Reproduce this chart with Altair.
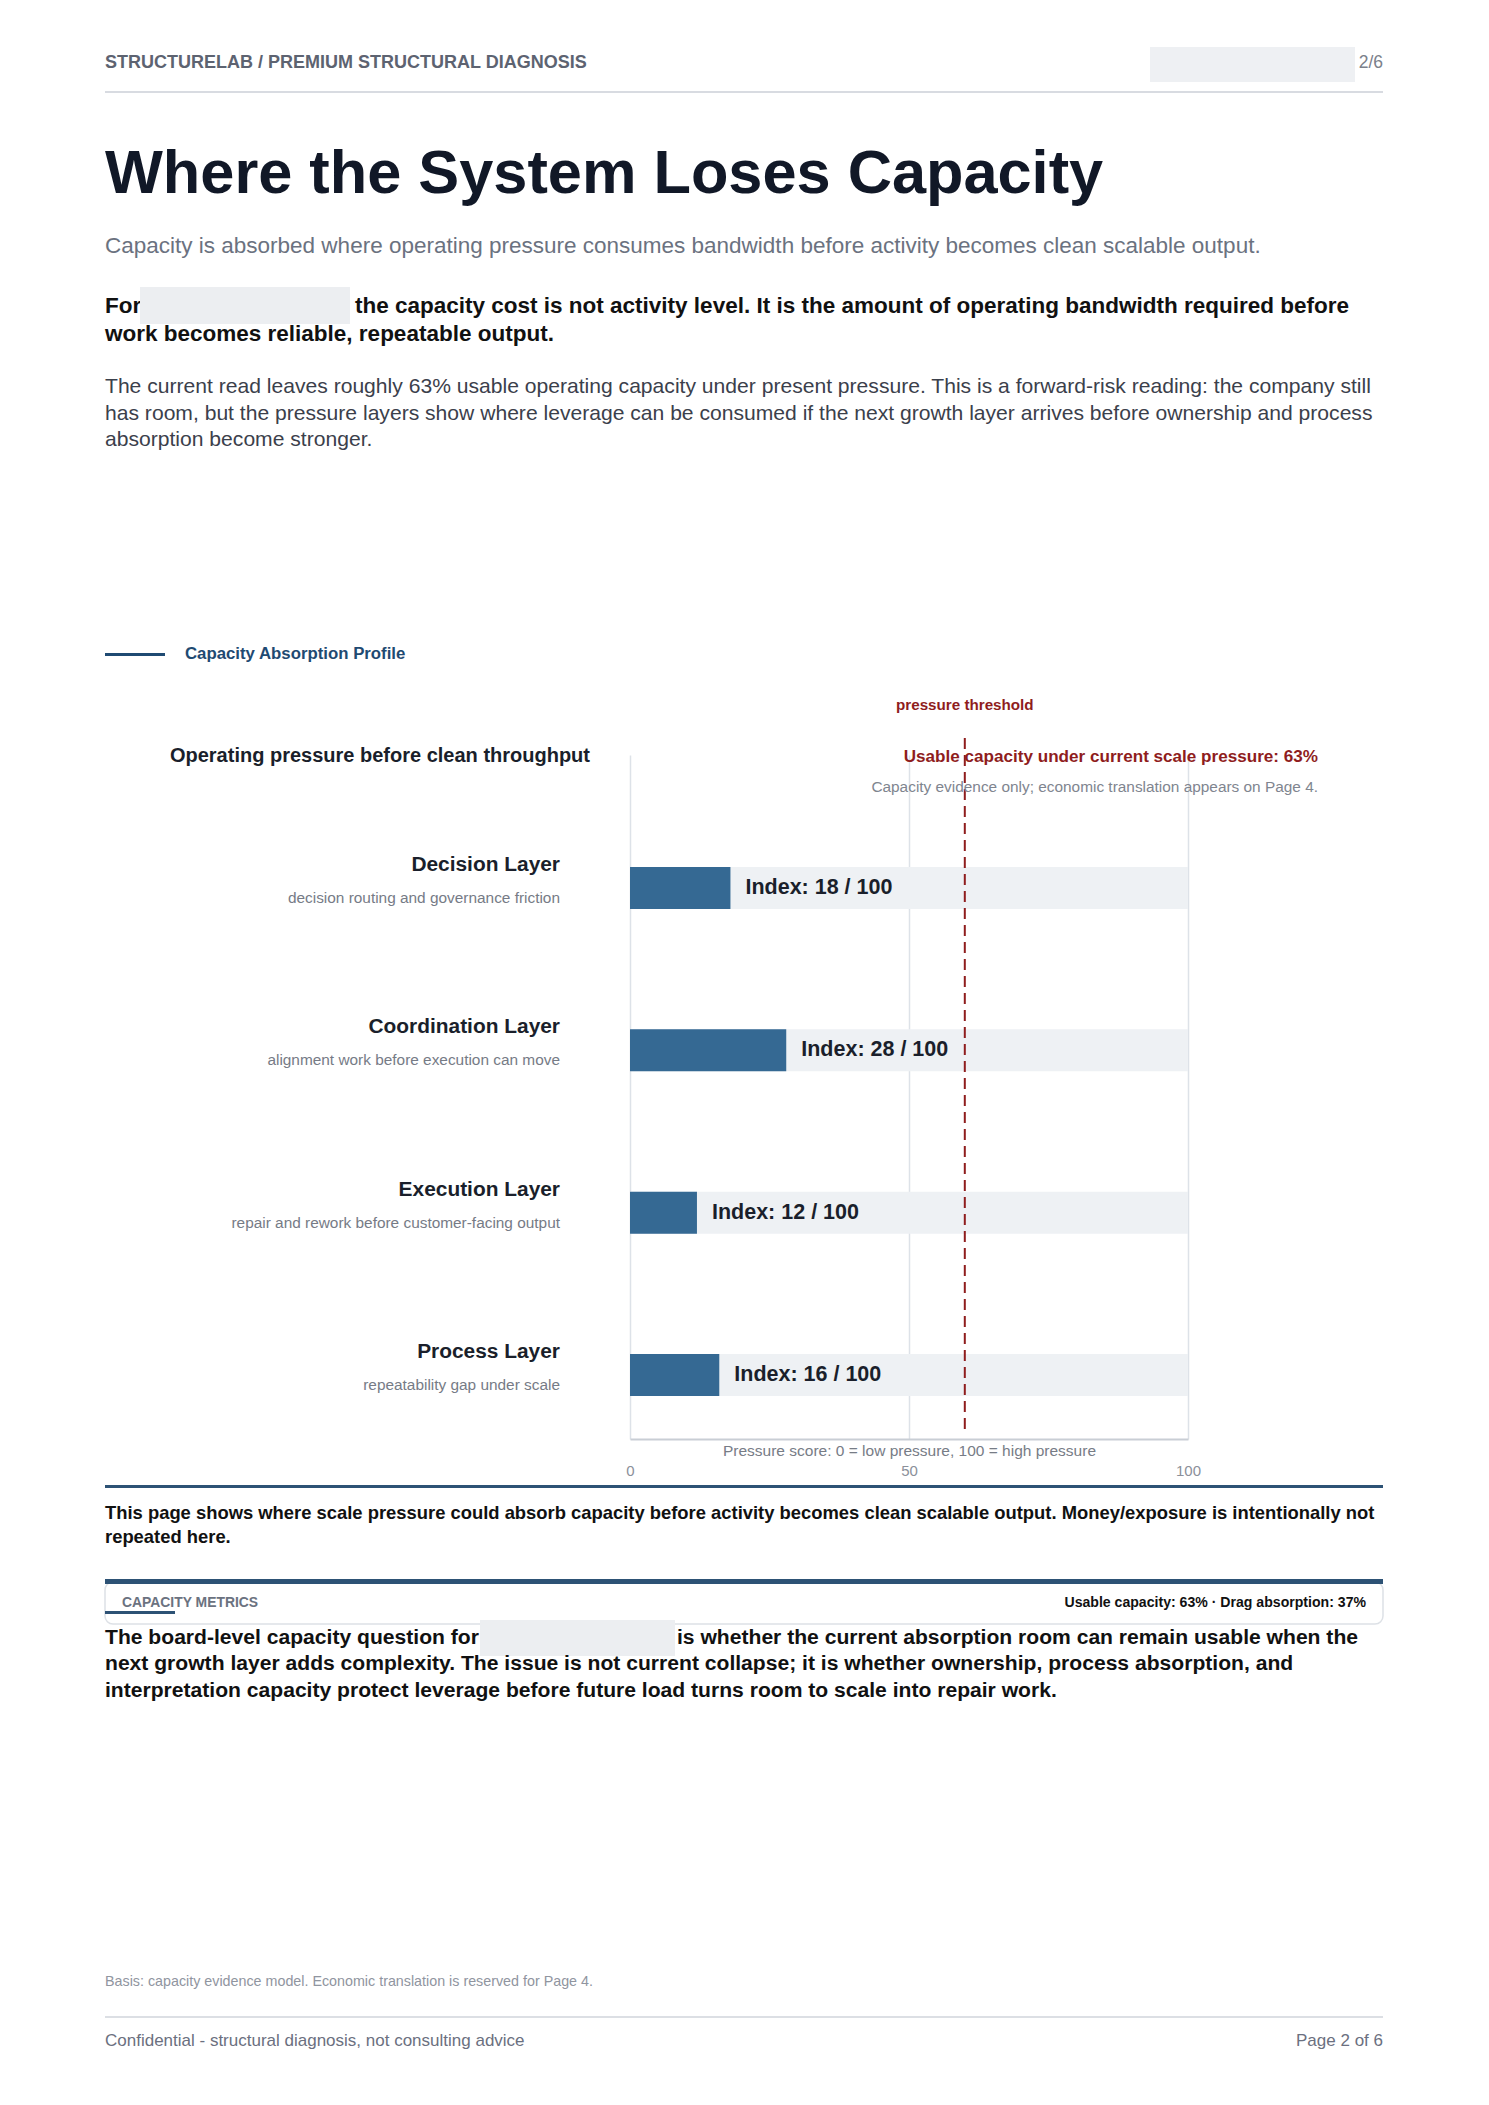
import altair as alt
import pandas as pd

FONT = "Liberation Sans"
X0, Y0 = 630, 755          # page position of the plot origin
PW, PH = 558, 684          # plot area size

# ---------------- data ----------------
layers = ["Decision Layer", "Coordination Layer", "Execution Layer", "Process Layer"]
descriptions = [
    "decision routing and governance friction",
    "alignment work before execution can move",
    "repair and rework before customer-facing output",
    "repeatability gap under scale",
]
scores = [18, 28, 12, 16]
threshold = 60
usable_pct = 63
drag_pct = 37
tick_values = [0, 50, 100]

df = pd.DataFrame({"layer": layers, "desc": descriptions, "score": scores})
df["label"] = ["Index: %d / 100" % s for s in scores]
thr = pd.DataFrame({"threshold": [threshold], "label": ["pressure threshold"]})
one = pd.DataFrame({"k": [0]})

# ---------------- helpers ----------------
def txt(s, x, y, size, color, weight="normal", align="left", lh=None):
    kw = dict(text=s, align=align, baseline="middle", fontSize=size,
              fontWeight=weight, color=color, font=FONT)
    if lh:
        kw["lineHeight"] = lh
    return alt.Chart(one).mark_text(**kw).encode(
        x=alt.value(x - X0), y=alt.value(y - Y0))

def box(x1, x2, y1, y2, fill, stroke=None, radius=0, sw=1):
    kw = dict(fill=fill, cornerRadius=radius)
    if stroke:
        kw.update(stroke=stroke, strokeWidth=sw)
    return alt.Chart(one).mark_rect(**kw).encode(
        x=alt.value(x1 - X0), x2=alt.value(x2 - X0),
        y=alt.value(y1 - Y0), y2=alt.value(y2 - Y0))

# ---------------- scales / axis ----------------
xs = alt.Scale(domain=[0, 100], nice=False, zero=True)
ys = alt.Scale(type="point", domain=layers, padding=0.607, align=0.675)
xaxis = alt.Axis(
    values=tick_values, grid=True, gridColor="#dde2e8", gridWidth=1.5,
    domain=True, domainColor="#c9ced5", domainWidth=2,
    ticks=False, tickSize=0, labelPadding=24, labelFlush=False,
    labelFontSize=15, labelColor="#8b909a", labelFont=FONT,
    title="Pressure score: 0 = low pressure, 100 = high pressure",
    titleFont=FONT, titleFontSize=15.5, titleFontWeight="normal",
    titleColor="#777c86", titleY=11, titleBaseline="middle",
)

BLUE = "#356993"
RED = "#8f1d1d"
DARK = "#1a1f2b"

bg = alt.Chart(df).mark_bar(size=42, color="#eef1f4").encode(
    x=alt.X(datum=0, type="quantitative", scale=xs, axis=xaxis),
    x2=alt.X2(datum=100),
    y=alt.Y("layer:N", scale=ys, axis=None),
)
bars = alt.Chart(df).mark_bar(size=42, color=BLUE).encode(
    x=alt.X("score:Q", scale=xs, axis=xaxis),
    y=alt.Y("layer:N", scale=ys, axis=None),
)
vals = alt.Chart(df).mark_text(align="left", baseline="middle", dx=15, fontSize=21.5,
                               fontWeight="bold", color=DARK, font=FONT).encode(
    x=alt.X("score:Q", scale=xs, axis=xaxis),
    y=alt.Y("layer:N", scale=ys, axis=None),
    text="label:N",
)
names = alt.Chart(df).mark_text(align="right", baseline="middle", dy=-23, fontSize=20.9,
                                fontWeight="bold", color=DARK, font=FONT).encode(
    x=alt.value(560 - X0),
    y=alt.Y("layer:N", scale=ys, axis=None),
    text="layer:N",
)
descs = alt.Chart(df).mark_text(align="right", baseline="middle", dy=10, fontSize=15.4,
                                color="#767b86", font=FONT).encode(
    x=alt.value(560 - X0),
    y=alt.Y("layer:N", scale=ys, axis=None),
    text="desc:N",
)
rule = alt.Chart(thr).mark_rule(color=RED, strokeWidth=2, strokeDash=[11, 6]).encode(
    x=alt.X("threshold:Q", scale=xs, axis=xaxis),
    y=alt.value(738 - Y0), y2=alt.value(1432 - Y0),
)
thr_lbl = alt.Chart(thr).mark_text(align="center", baseline="middle", fontSize=15.2,
                                   fontWeight="bold", color=RED, font=FONT).encode(
    x=alt.X("threshold:Q", scale=xs, axis=xaxis),
    y=alt.value(705 - Y0),
    text="label:N",
)

GRAY = "#6b7280"
page = [
    # header
    txt("STRUCTURELAB / PREMIUM STRUCTURAL DIAGNOSIS", 105, 63, 18, "#5d6371", "bold"),
    box(1150, 1355, 47, 82, "#eef0f3"),
    txt("2/6", 1383, 63, 17.5, "#7b808a", align="right"),
    box(105, 1383, 91, 93, "#d8dbe1"),
    # title block
    txt("Where the System Loses Capacity", 105, 175, 61.3, "#111827", "bold"),
    txt("Capacity is absorbed where operating pressure consumes bandwidth before activity becomes clean scalable output.",
        105, 246, 22.5, GRAY),
    txt("For", 105, 306, 22.5, "#111111", "bold"),
    box(140, 350, 287, 324, "#eceef1"),
    txt("the capacity cost is not activity level. It is the amount of operating bandwidth required before",
        355, 306, 22.5, "#111111", "bold"),
    txt("work becomes reliable, repeatable output.", 105, 334, 22.5, "#111111", "bold"),
    txt(["The current read leaves roughly 63% usable operating capacity under present pressure. This is a forward-risk reading: the company still",
         "has room, but the pressure layers show where leverage can be consumed if the next growth layer arrives before ownership and process",
         "absorption become stronger."], 105, 387, 21.1, "#3b404b", lh=26.5),
    # section header
    box(105, 165, 653, 656, "#1f4a72"),
    txt("Capacity Absorption Profile", 185, 654, 16.8, "#1f4a72", "bold"),
    txt("Operating pressure before clean throughput", 590, 756, 20, DARK, "bold", align="right"),
    # bottom notes
    box(105, 1383, 1485, 1488, "#2d5275"),
    txt(["This page shows where scale pressure could absorb capacity before activity becomes clean scalable output. Money/exposure is intentionally not",
         "repeated here."], 105, 1513, 18.4, "#111111", "bold", lh=23.5),
    box(105, 1383, 1582, 1624, "#ffffff", stroke="#dde1e6", radius=8, sw=1.5),
    box(105, 1383, 1579, 1584, "#2d5275"),
    txt("CAPACITY METRICS", 122, 1603, 13.9, GRAY, "bold"),
    box(105, 175, 1611, 1614, "#2d5275"),
    txt("Usable capacity: %d%% · Drag absorption: %d%%" % (usable_pct, drag_pct),
        1366, 1603, 14.1, "#111111", "bold", align="right"),
    txt("The board-level capacity question for", 105, 1638, 21.1, "#111111", "bold"),
    box(480, 675, 1620, 1656, "#eceef1"),
    txt("is whether the current absorption room can remain usable when the", 677, 1638, 21.1, "#111111", "bold"),
    txt(["next growth layer adds complexity. The issue is not current collapse; it is whether ownership, process absorption, and",
         "interpretation capacity protect leverage before future load turns room to scale into repair work."],
        105, 1664, 21.1, "#111111", "bold", lh=26.5),
    # footer
    txt("Basis: capacity evidence model. Economic translation is reserved for Page 4.", 105, 1982, 14.3, "#9095a0"),
    box(105, 1383, 2016, 2018, "#dcdfe4"),
    txt("Confidential - structural diagnosis, not consulting advice", 105, 2041, 17, "#6b7080"),
    txt("Page 2 of 6", 1383, 2041, 17, "#6b7080", align="right"),
    # chart annotations
    txt("Usable capacity under current scale pressure: %d%%" % usable_pct, 1318, 757, 17.1, RED, "bold", align="right"),
    txt("Capacity evidence only; economic translation appears on Page 4.", 1318, 787, 15.4, "#80858f", align="right"),
]

chart = alt.layer(bg, bars, rule, thr_lbl, vals, names, descs, *page).properties(
    width=PW, height=PH,
    padding={"left": X0 - 8, "top": Y0 - 8, "right": 1489 - 16 - (X0 - 8) - PW, "bottom": 2089 - (Y0 - 8) - PH - 10},
    autosize=alt.AutoSizeParams(type="none"),
    background="white",
).configure_view(stroke=None)

chart.save("out.html", embed_options={"renderer": "svg", "actions": False})
